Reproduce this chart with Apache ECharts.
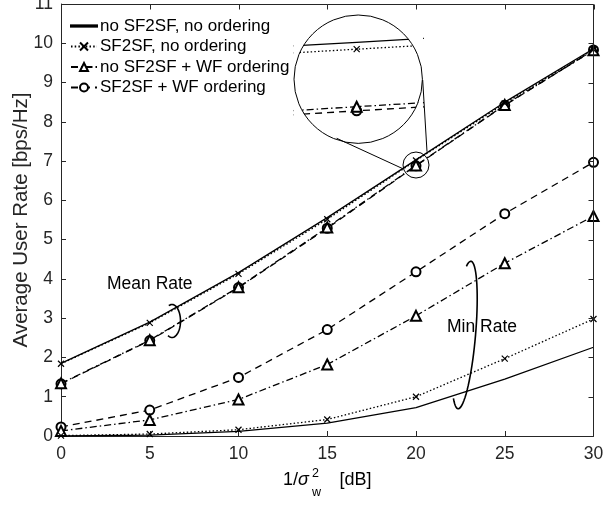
<!DOCTYPE html>
<html>
<head>
<meta charset="UTF-8">
<title>Average User Rate</title>
<script src="https://cdn.jsdelivr.net/npm/echarts@6/dist/echarts.min.js"></script>
<style>
  html, body { margin: 0; padding: 0; background: #fff; }
  #chart { width: 613px; height: 508px; }
</style>
</head>
<body>
<div id="chart"></div>
<script>
// x axis: 1/sigma_w^2 in dB
var snr = [0, 5, 10, 15, 20, 25, 30];
var xTicks = ['0', '5', '10', '15', '20', '25', '30'];
var yTicks = [0, 1, 2, 3, 4, 5, 6, 7, 8, 9, 10, 11];
var names = ['no SF2SF, no ordering', 'SF2SF, no ordering', 'no SF2SF + WF ordering', 'SF2SF + WF ordering'];

// mean rate curves
var meanNoSfNoOrd = [1.85, 2.90, 4.16, 5.56, 7.030, 8.50, 9.86];
var meanSfNoOrd   = [1.84, 2.88, 4.13, 5.52, 7.015, 8.47, 9.84];
var meanNoSfWf    = [1.34, 2.44, 3.79, 5.31, 6.890, 8.43, 9.82];
var meanSfWf      = [1.33, 2.43, 3.78, 5.29, 6.881, 8.42, 9.83];

// min rate curves
var minNoSfNoOrd = [0.00, 0.02, 0.12, 0.33, 0.72, 1.45, 2.26];
var minSfNoOrd   = [0.01, 0.05, 0.16, 0.42, 1.00, 1.97, 2.98];
var minNoSfWf    = [0.13, 0.41, 0.93, 1.82, 3.06, 4.40, 5.60];
var minSfWf      = [0.23, 0.66, 1.49, 2.71, 4.18, 5.66, 6.97];

var font = 'Liberation Sans, Arial, Helvetica, sans-serif';
var axisColor = '#262626';

var styles = [
    { type: 'solid', symbol: 'none', size: 0 },
    { type: [1.5, 2.2], symbol: 'path://M0,0L10,10M10,0L0,10', size: 6 },
    { type: [7, 3, 1.5, 3], symbol: 'emptyTriangle', size: 10 },
    { type: [7, 5], symbol: 'emptyCircle', size: 9 }
];

function pairs(ys) {
    return snr.map(function (x, i) { return [x, ys[i]]; });
}

function makeSeries(idx, ys, axisIdx) {
    var st = styles[idx];
    return {
        name: names[idx],
        type: 'line',
        xAxisIndex: axisIdx,
        yAxisIndex: axisIdx,
        data: pairs(ys),
        symbol: st.symbol,
        symbolSize: st.size,
        showSymbol: st.symbol !== 'none',
        clip: true,
        silent: true,
        animation: false,
        lineStyle: { color: '#000', width: 1.3, type: st.type },
        itemStyle: { color: '#000', borderColor: '#000', borderWidth: 1.2 },
        z: 10 - idx
    };
}

var series = [
    makeSeries(0, meanNoSfNoOrd, 0),
    makeSeries(1, meanSfNoOrd, 0),
    makeSeries(2, meanNoSfWf, 0),
    makeSeries(3, meanSfWf, 0),
    makeSeries(0, minNoSfNoOrd, 0),
    makeSeries(1, minSfNoOrd, 0),
    makeSeries(2, minNoSfWf, 0),
    makeSeries(3, minSfWf, 0),
    // magnified view around x = 20
    makeSeries(0, meanNoSfNoOrd, 1),
    makeSeries(1, meanSfNoOrd, 1),
    makeSeries(2, meanNoSfWf, 1),
    makeSeries(3, meanSfWf, 1)
];

// inset layout
var inset = { cx: 358.2, cy: 79.2, r: 64.2 };
var iL = inset.cx - inset.r, iT = inset.cy - inset.r, iR = inset.cx + inset.r, iB = inset.cy + inset.r;

var dom = document.getElementById('chart');
var myChart = echarts.init(dom, null, { renderer: 'canvas' });

function tickStyle() { return { show: true, inside: true, length: 5, lineStyle: { color: axisColor, width: 1 } }; }
function axLine() { return { show: true, onZero: false, lineStyle: { color: axisColor, width: 1 } }; }

var legendData = names.map(function (n, i) {
    return i === 0 ? { name: n, icon: 'path://M0,0L26,0L26,1.3L0,1.3Z' } : { name: n };
});

var option = {
    backgroundColor: '#fff',
    animation: false,
    textStyle: { fontFamily: font },
    grid: [
        { left: 61, right: 19.5, top: 4, bottom: 72, containLabel: false, outerBoundsMode: 'none' },
        { left: iL, top: iT, width: 2 * inset.r, height: 2 * inset.r, containLabel: false, outerBoundsMode: 'none' }
    ],
    legend: {
        data: legendData,
        orient: 'vertical',
        left: 70,
        top: 17.5,
        padding: 0,
        itemWidth: 26,
        itemHeight: 10,
        itemGap: 3.5,
        selectedMode: false,
        textStyle: { fontSize: 17, color: '#000', fontFamily: font, padding: [0, 0, 0, -2] }
    },
    xAxis: [
        {
            type: 'value', gridIndex: 0, position: 'bottom', min: 0, max: 30, interval: 5,
            axisLine: axLine(), axisTick: tickStyle(), splitLine: { show: false },
            axisLabel: {
                margin: 9, fontSize: 17.5, color: axisColor, fontFamily: font,
                formatter: function (v) { return xTicks[snr.indexOf(v)]; }
            }
        },
        { type: 'value', gridIndex: 1, min: 19.9734, max: 20.0279, show: false }
    ],
    yAxis: [
        {
            type: 'value', gridIndex: 0, position: 'left', min: 0, max: 11, interval: 1,
            axisLine: axLine(), axisTick: tickStyle(), splitLine: { show: false },
            axisLabel: { margin: 8, fontSize: 17.5, color: axisColor, fontFamily: font },
            name: 'Average User Rate [bps/Hz]',
            nameLocation: 'middle',
            nameGap: 29,
            nameMoveOverlap: false,
            nameTextStyle: { fontSize: 20.5, color: axisColor, fontFamily: font }
        },
        { type: 'value', gridIndex: 1, min: 6.8102, max: 7.0893, show: false }
    ],
    series: series
};

myChart.setOption(option);

function ellipsePts(cx, cy, rx, ry, rot, t0, t1) {
    var pts = [];
    var c = Math.cos(rot * Math.PI / 180), s = Math.sin(rot * Math.PI / 180);
    for (var i = 0; i <= 48; i++) {
        var t = (t0 + (t1 - t0) * i / 48) * Math.PI / 180;
        var x = rx * Math.cos(t), y = ry * Math.sin(t);
        pts.push([cx + x * c - y * s, cy + x * s + y * c]);
    }
    return pts;
}

// white corner pieces that turn the square inset grid into a round lens
function cornerPoly(px, py, a0, a1) {
    var pts = [[px, py]];
    var rr = inset.r + 0.3;
    for (var i = 0; i <= 24; i++) {
        var a = (a0 + (a1 - a0) * i / 24) * Math.PI / 180;
        pts.push([inset.cx + rr * Math.cos(a), inset.cy + rr * Math.sin(a)]);
    }
    return { type: 'polygon', z: 100, silent: true, shape: { points: pts }, style: { fill: '#fff', stroke: null } };
}

var toPx = function (x, y) { return myChart.convertToPixel({ xAxisIndex: 0, yAxisIndex: 0 }, [x, y]); };

// small circle sits on the WF-ordering markers at x = 20
var spot = toPx(20, 6.9);
var cx = inset.cx, cy = inset.cy;

var stroke = { stroke: '#000', lineWidth: 1, fill: null };
var boxStroke = { stroke: axisColor, lineWidth: 1, fill: null };
var txt = function (x, y, text, size, fontStr) {
    return {
        type: 'text', z: 120, silent: true,
        style: { x: x, y: y, text: text, fill: '#000', font: fontStr || (size + 'px ' + font), verticalAlign: 'middle' }
    };
};

// top and right frame of the box with inward ticks
var lo = toPx(0, 0), hi = toPx(30, 11);
var topY = Math.round(hi[1]) + 0.5, rightX = Math.floor(hi[0]) + 0.5;
var frame = [
    { type: 'line', z: 130, silent: true, shape: { x1: lo[0], y1: topY, x2: rightX, y2: topY }, style: boxStroke },
    { type: 'line', z: 130, silent: true, shape: { x1: rightX, y1: topY, x2: rightX, y2: lo[1] }, style: boxStroke }
];
snr.forEach(function (v) {
    var x = Math.round(toPx(v, 0)[0]) + 0.5;
    frame.push({ type: 'line', z: 130, silent: true, shape: { x1: x, y1: topY, x2: x, y2: topY + 5 }, style: boxStroke });
});
yTicks.forEach(function (v) {
    var y = Math.round(toPx(0, v)[1]) + 0.5;
    frame.push({ type: 'line', z: 130, silent: true, shape: { x1: rightX, y1: y, x2: rightX - 5, y2: y }, style: boxStroke });
});

myChart.setOption({
    graphic: frame.concat([
        cornerPoly(iL - 1, iT - 1, -180, -90),
        cornerPoly(iR + 1, iT - 1, -90, 0),
        cornerPoly(iR + 1, iB + 1, 0, 90),
        cornerPoly(iL - 1, iB + 1, 90, 180),
        { type: 'circle', z: 110, silent: true, shape: { cx: cx, cy: cy, r: inset.r }, style: stroke },
        { type: 'circle', z: 110, silent: true, shape: { cx: spot[0], cy: spot[1], r: 13 }, style: stroke },
        { type: 'line', z: 110, silent: true, shape: { x1: 336.7, y1: 138.3, x2: spot[0] - 14, y2: spot[1] + 3.3 }, style: stroke },
        { type: 'line', z: 110, silent: true, shape: { x1: 422.7, y1: 80, x2: spot[0] + 11, y2: spot[1] - 13.3 }, style: stroke },
        { type: 'polyline', z: 110, silent: true, shape: { points: ellipsePts(172, 321, 8.5, 16.5, 0, -112, 118) }, style: { stroke: '#000', lineWidth: 1.6, fill: null } },
        { type: 'polyline', z: 110, silent: true, shape: { points: ellipsePts(464.5, 335, 11, 74, 5, -112, 120) }, style: { stroke: '#000', lineWidth: 1.6, fill: null } },
        txt(107, 284, 'Mean Rate', 17.5),
        txt(447, 327, 'Min Rate', 17.5),
        // x axis title: 1/sigma_w^2 [dB]
        txt(283, 480, '1/', 18),
        txt(298, 480, 'σ', 18, 'italic 18px ' + font),
        txt(312, 474, '2', 12.5),
        txt(312, 493, 'w', 12.5),
        txt(339.5, 480, '[dB]', 18)
    ])
});
</script>
</body>
</html>
